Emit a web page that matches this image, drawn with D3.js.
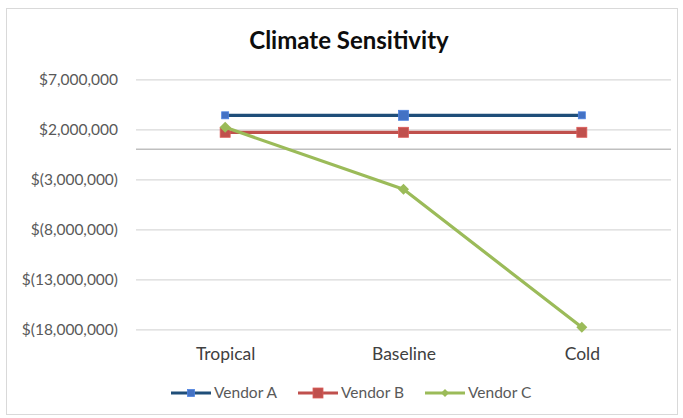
<!DOCTYPE html>
<html>
<head>
<meta charset="utf-8">
<script src="https://cdn.jsdelivr.net/npm/d3@7"></script>
<style>
  html, body { margin: 0; padding: 0; background: #fff; }
  svg { display: block; font-family: Lato, "Open Sans", sans-serif; }
</style>
</head>
<body>
<svg id="chart" width="683" height="418"></svg>
<script>
// Scenario categories and each vendor's value per scenario (USD)
const categories = ["Tropical", "Baseline", "Cold"];
const vendorA = [3400000, 3400000, 3400000];
const vendorB = [1700000, 1700000, 1700000];
const vendorC = [2200000, -4000000, -17800000];
const yTicks = [7000000, 2000000, -3000000, -8000000, -13000000, -18000000];
const seriesNames = ["Vendor A", "Vendor B", "Vendor C"];

const series = [
  { name: seriesNames[0], values: vendorA, line: "#1F4E79", fill: "#4472C4", shape: "square", sizes: [7, 10, 7] },
  { name: seriesNames[1], values: vendorB, line: "#C0504D", fill: "#C0504D", shape: "square", sizes: [10, 10, 10] },
  { name: seriesNames[2], values: vendorC, line: "#9BBB59", fill: "#9BBB59", shape: "diamond", sizes: [10, 10, 10] }
];

const svg = d3.select("#chart");

// chart border
svg.append("rect")
  .attr("x", 6.5).attr("y", 8.5).attr("width", 671).attr("height", 406)
  .attr("fill", "#fff").attr("stroke", "#d9d9d9").attr("stroke-width", 1);

const plot = { left: 136, right: 671, top: 79.3, bottom: 329.3 };

const x = d3.scalePoint().domain(categories).range([plot.left, plot.right]).padding(0.5);
const y = d3.scaleLinear().domain([-18000000, 7000000]).range([plot.bottom, plot.top]);

const money = d3.format(",.0f");
const fmt = v => v < 0 ? "$(" + money(-v) + ")" : "$" + money(v);

// title
svg.append("text")
  .attr("x", 349).attr("y", 49)
  .attr("text-anchor", "middle")
  .attr("font-size", 24).attr("font-weight", 700).attr("fill", "#0d0d0d")
  .text("Climate Sensitivity");

// horizontal gridlines + value labels
const yAxis = d3.axisLeft(y).tickValues(yTicks).tickFormat(fmt)
  .tickSize(-(plot.right - plot.left)).tickPadding(18);
const gy = svg.append("g").attr("transform", `translate(${plot.left},0)`).call(yAxis);
gy.select(".domain").remove();
gy.selectAll(".tick line").attr("stroke", "#d9d9d9").attr("stroke-width", 1.2);
gy.selectAll(".tick text")
  .attr("font-size", 15.5).attr("fill", "#595959").attr("font-family", "Lato, sans-serif");

// zero baseline
svg.append("line")
  .attr("x1", plot.left).attr("x2", plot.right)
  .attr("y1", y(0)).attr("y2", y(0))
  .attr("stroke", "#bfbfbf").attr("stroke-width", 1.5);

// category labels
const xAxis = d3.axisBottom(x).tickSize(0).tickPadding(0);
const gx = svg.append("g").attr("transform", `translate(0,${plot.bottom + 31})`).call(xAxis);
gx.select(".domain").remove();
gx.selectAll(".tick text")
  .attr("font-size", 17.5).attr("fill", "#404040").attr("font-family", "Lato, sans-serif")
  .attr("dy", "0");

function marker(sel, shape, size, fill) {
  if (shape === "square") {
    sel.append("rect")
      .attr("x", -size / 2).attr("y", -size / 2)
      .attr("width", size).attr("height", size)
      .attr("fill", fill).attr("stroke", d3.color(fill).brighter(0.4)).attr("stroke-width", 0.8);
  } else {
    const h = size / 2 + 0.5;
    sel.append("path")
      .attr("d", `M0,${-h}L${h},0L0,${h}L${-h},0Z`)
      .attr("fill", fill);
  }
}

const lineGen = d3.line().x((d, i) => x(categories[i])).y(d => y(d));

series.forEach(s => {
  const g = svg.append("g");
  g.append("path")
    .datum(s.values)
    .attr("d", lineGen)
    .attr("fill", "none").attr("stroke", s.line).attr("stroke-width", 3.2)
    .attr("stroke-linejoin", "round");
  s.values.forEach((v, i) => {
    const m = g.append("g").attr("transform", `translate(${x(categories[i])},${y(v)})`);
    marker(m, s.shape, s.sizes[i], s.fill);
  });
});

// legend
const legendX = [171, 298, 425];
const legendY = 393;
series.forEach((s, i) => {
  const g = svg.append("g").attr("transform", `translate(${legendX[i]},${legendY})`);
  g.append("line").attr("x1", 0).attr("x2", 40).attr("y1", 0).attr("y2", 0)
    .attr("stroke", s.line).attr("stroke-width", 3.2);
  const m = g.append("g").attr("transform", "translate(20,0)");
  marker(m, s.shape, s.shape === "diamond" ? 7 : (i === 0 ? 7 : 10), s.fill);
  g.append("text").attr("x", 43).attr("y", 0).attr("dy", "0.35em")
    .attr("font-size", 15.5).attr("fill", "#595959")
    .text(s.name);
});
</script>
</body>
</html>
